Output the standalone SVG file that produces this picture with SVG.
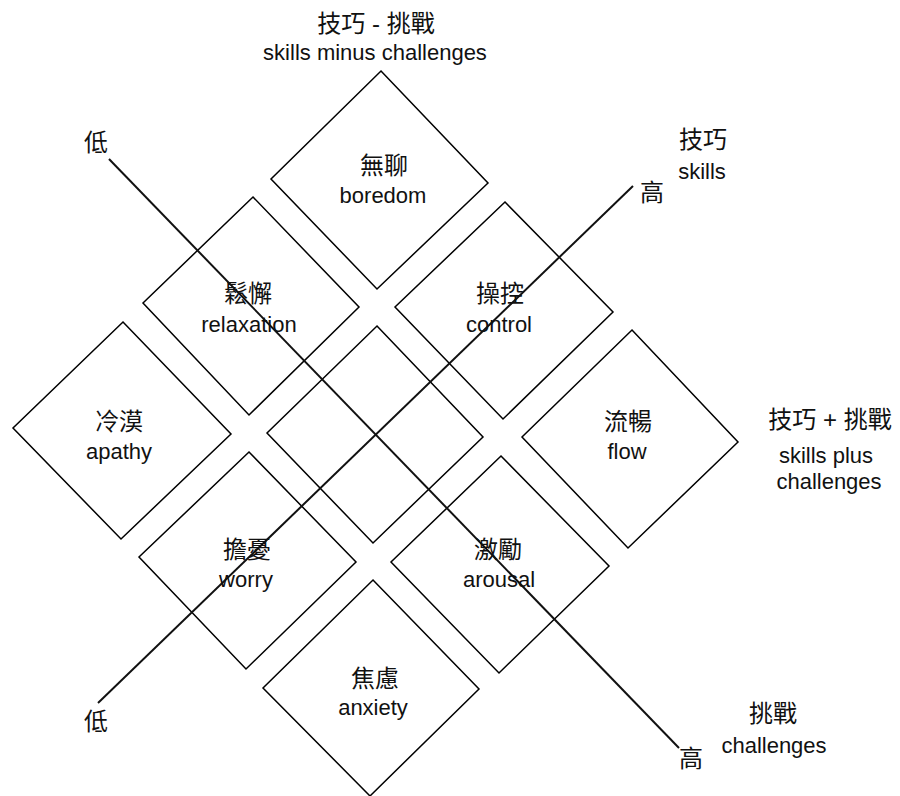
<svg xmlns="http://www.w3.org/2000/svg" width="900" height="796" viewBox="0 0 900 796">
<style>
  .d { fill: none; stroke: #000; stroke-width: 1.5; stroke-linejoin: miter; }
  .ax { fill: none; stroke: #111; stroke-width: 2; }
  .zh { font-family: "Liberation Sans", "Noto Sans CJK TC", sans-serif; font-size: 24px; fill: #111; text-anchor: middle; }
  .en { font-family: "Liberation Sans", "Noto Sans CJK TC", sans-serif; font-size: 22px; fill: #111; text-anchor: middle; }
</style>
<rect width="900" height="796" fill="#fff"/>

<g id="boredom">
  <polygon class="d" points="381,71 488,183 377,289 271,179"/>
  <text class="zh" x="384" y="174">無聊</text>
  <text class="en" x="383" y="203">boredom</text>
</g>
<g id="relaxation">
  <polygon class="d" points="253,197 359,307 249,415 143,303"/>
  <text class="zh" x="248" y="302">鬆懈</text>
  <text class="en" x="249" y="332">relaxation</text>
</g>
<g id="control">
  <polygon class="d" points="505,202 613,312 503,419 395,307"/>
  <text class="zh" x="500" y="302">操控</text>
  <text class="en" x="499" y="332">control</text>
</g>
<g id="apathy">
  <polygon class="d" points="123,322 231,434 121,539 13,428"/>
  <text class="zh" x="119" y="430">冷漠</text>
  <text class="en" x="119" y="459">apathy</text>
</g>
<g id="center">
  <polygon class="d" points="377,326 483,437 373,543 267,433"/>
</g>
<g id="flow">
  <polygon class="d" points="632,330 738,442 628,548 522,437"/>
  <text class="zh" x="628" y="430">流暢</text>
  <text class="en" x="627" y="459">flow</text>
</g>
<g id="worry">
  <polygon class="d" points="249,452 356,562 246,669 139,557"/>
  <text class="zh" x="247" y="558">擔憂</text>
  <text class="en" x="246" y="587">worry</text>
</g>
<g id="arousal">
  <polygon class="d" points="501,456 609,566 499,673 391,562"/>
  <text class="zh" x="498" y="558">激勵</text>
  <text class="en" x="499" y="587">arousal</text>
</g>
<g id="anxiety">
  <polygon class="d" points="373,580 479,689 370,796 263,688"/>
  <text class="zh" x="375" y="687">焦慮</text>
  <text class="en" x="373" y="715">anxiety</text>
</g>

<g id="axes">
  <line class="ax" x1="98" y1="703" x2="633" y2="186"/>
  <line class="ax" x1="109" y1="159" x2="679" y2="748"/>
</g>

<g id="labels">
  <text class="zh" x="376" y="32">技巧 - 挑戰</text>
  <text class="en" x="375" y="60">skills minus challenges</text>
  <text class="zh" x="96" y="151">低</text>
  <text class="zh" x="703" y="148">技巧</text>
  <text class="en" x="702" y="179">skills</text>
  <text class="zh" x="652" y="201">高</text>
  <text class="zh" x="830" y="428">技巧 + 挑戰</text>
  <text class="en" x="826" y="463">skills plus</text>
  <text class="en" x="829" y="489">challenges</text>
  <text class="zh" x="96" y="730">低</text>
  <text class="zh" x="773" y="722">挑戰</text>
  <text class="en" x="774" y="753">challenges</text>
  <text class="zh" x="691" y="767">高</text>
</g>
</svg>
